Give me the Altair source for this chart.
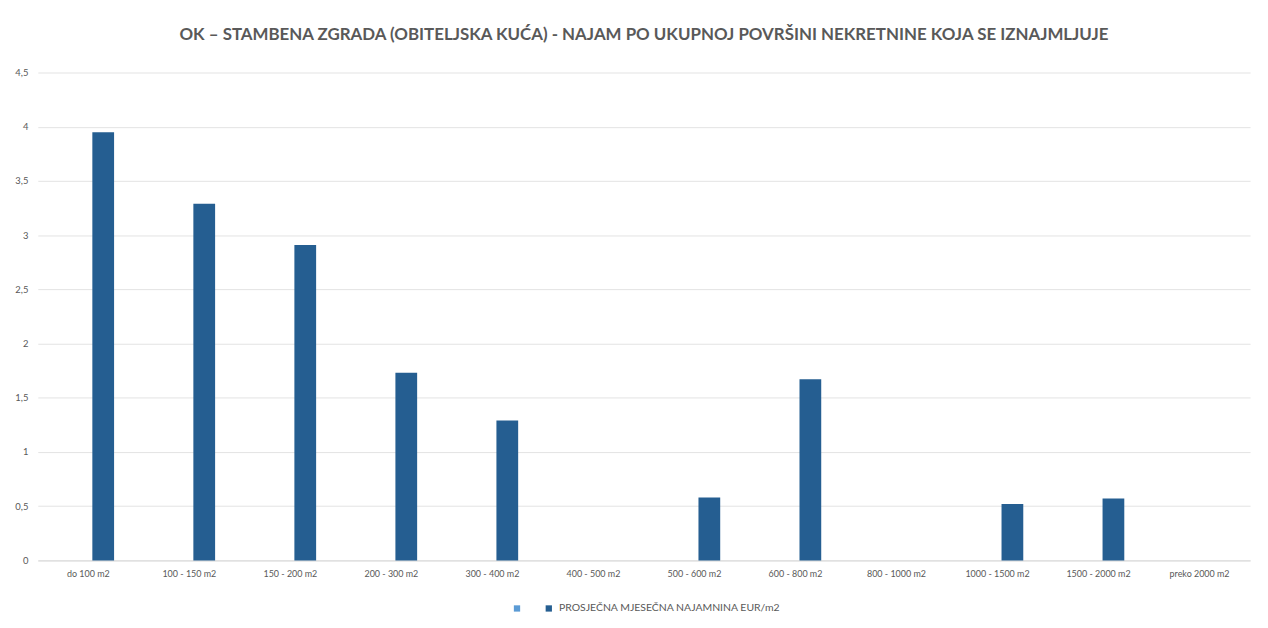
import altair as alt
import pandas as pd

categories = ["do 100 m2", "100 - 150 m2", "150 - 200 m2", "200 - 300 m2", "300 - 400 m2",
              "400 - 500 m2", "500 - 600 m2", "600 - 800 m2", "800 - 1000 m2",
              "1000 - 1500 m2", "1500 - 2000 m2", "preko 2000 m2"]
values = [3.95, 3.29, 2.91, 1.73, 1.29, 0, 0.58, 1.67, 0, 0.52, 0.57, 0]
series_names = [" ", "PROSJEČNA MJESEČNA NAJAMNINA EUR/m2"]
series_colors = ["#5B9BD5", "#255E91"]

df = pd.DataFrame({"cat": categories, "val": values, "series": series_names[1]})

FONT = "Lato"
GRAY = "#595959"

chart = alt.Chart(df).mark_bar().encode(
    x=alt.X("cat:N", sort=categories,
            scale=alt.Scale(domain=categories, paddingInner=0.49, paddingOuter=0.245),
            axis=alt.Axis(title=None, labelAngle=0, labelFont=FONT, labelFontSize=9,
                          labelColor=GRAY, ticks=False, domainColor="#d9d9d9",
                          labelPadding=9, grid=False)),
    xOffset=alt.XOffset("series:N", scale=alt.Scale(domain=series_names, paddingInner=0.27)),
    y=alt.Y("val:Q", scale=alt.Scale(domain=[0, 4.5], nice=False),
            axis=alt.Axis(title=None, values=[0, 0.5, 1, 1.5, 2, 2.5, 3, 3.5, 4, 4.5],
                          labelExpr="replace(format(datum.value, ''), '.', ',')",
                          labelFont=FONT, labelFontSize=9.5, labelColor=GRAY,
                          ticks=False, domain=False, gridColor="#e3e3e3", labelPadding=10)),
    color=alt.Color("series:N", scale=alt.Scale(domain=series_names, range=series_colors),
                    legend=alt.Legend(title=None, orient="none", direction="horizontal",
                                      legendX=477, legendY=534, symbolType="square",
                                      symbolSize=40, symbolStrokeWidth=0, labelLimit=0,
                                      labelFont=FONT, labelFontSize=10.5, labelColor=GRAY,
                                      columnPadding=16, labelOffset=5)),
).properties(
    width=1220, height=491,
    title=alt.TitleParams(
        "OK – STAMBENA ZGRADA (OBITELJSKA KUĆA) - NAJAM PO UKUPNOJ POVRŠINI NEKRETNINE KOJA SE IZNAJMLJUJE",
        font=FONT, fontSize=17, fontWeight="bold", color=GRAY, anchor="middle", offset=24),
    autosize=alt.AutoSizeParams(type="none"),
    padding={"left": 30, "top": 63, "right": 10, "bottom": 50},
).configure(background="white").configure_view(stroke=None, strokeWidth=0)

chart.save("out.html", embed_options={"renderer": "svg", "actions": False})
